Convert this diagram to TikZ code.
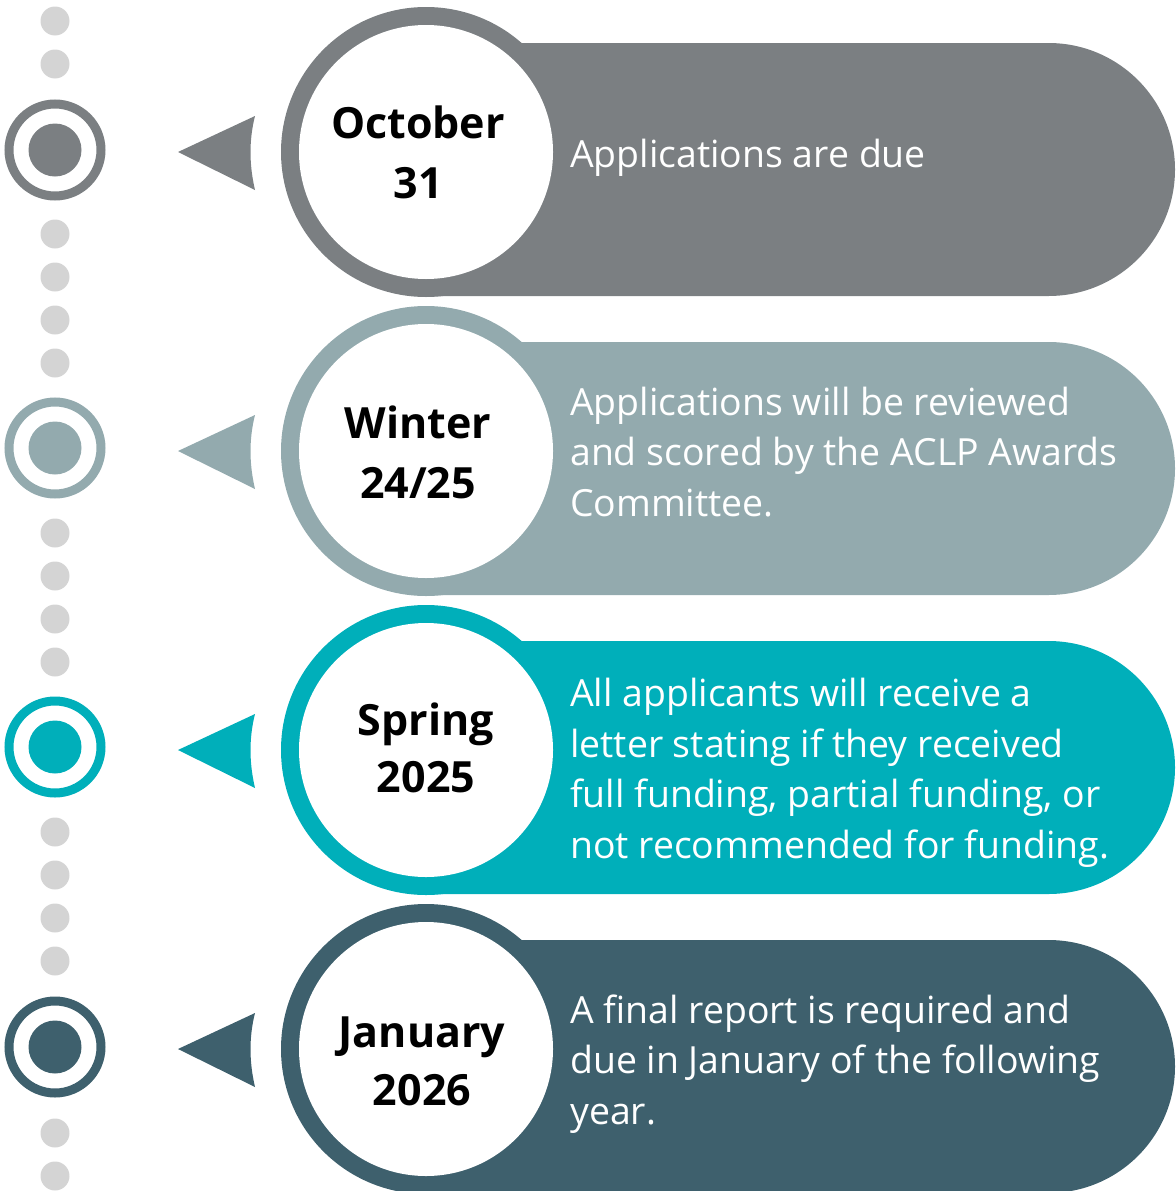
\documentclass[tikz,border=0pt]{standalone}
\usepackage{fontspec}
\setmainfont{Open Sans}
\usetikzlibrary{positioning,calc}

\definecolor{rowgray}{HTML}{7B7F82}
\definecolor{rowsage}{HTML}{93AAAE}
\definecolor{rowteal}{HTML}{00AFBA}
\definecolor{rowslate}{HTML}{3E606D}
\definecolor{dotgray}{HTML}{D4D4D4}

\tikzset{
	ring/.style={circle, fill=#1, minimum size=290pt, inner sep=0pt},
	face/.style={circle, fill=white, minimum size=254pt, inner sep=0pt},
	datetext/.style={font=\fontsize{43}{#1}\selectfont\bfseries, align=center, inner sep=0pt, anchor=base},
	datetext/.default=60,
	bodytext/.style={font=\fontsize{37.4}{50.5}\selectfont, text=white, align=left, inner sep=0pt, anchor=base west},
	greydot/.style={circle, fill=dotgray, minimum size=29pt, inner sep=0pt},
	target/.style={circle, draw=#1, line width=9pt, minimum size=92pt, inner sep=0pt},
	bullseye/.style={circle, fill=#1, minimum size=53pt, inner sep=0pt}
}

% rounded bar and pointer of one row
\newcommand{\timebar}[2]{\fill[#1] (426,#2+109) -- (1048.5,#2+109) arc[start angle=90, end angle=-90, radius=126.5] -- (426,#2-144) -- cycle;}
\newcommand{\pointer}[2]{\fill[#1] (178,#2) -- (255,#2+36) .. controls (249,#2+12) and (249,#2-12) .. (255,#2-38) -- cycle;}

\begin{document}
\begin{tikzpicture}[x=1pt, y=1pt]
	\useasboundingbox (0,0) rectangle (1175,-1191);

	% dotted line
	\foreach \dy in {21,64,234,277,320,363,533,576,619,662,832,875,918,961,1133,1176}
		\node[greydot] at (55,-\dy) {};

	% bars
	\timebar{rowgray}{-152}
	\timebar{rowsage}{-451}
	\timebar{rowteal}{-750}
	\timebar{rowslate}{-1049}

	% pointers
	\pointer{rowgray}{-152}
	\pointer{rowsage}{-451}
	\pointer{rowteal}{-750}
	\pointer{rowslate}{-1049}

	% targets
	\node[target=rowgray] (t1) at (55,-150) {};
	\node[bullseye=rowgray] at (t1) {};
	\node[target=rowsage] (t2) at (55,-448) {};
	\node[bullseye=rowsage] at (t2) {};
	\node[target=rowteal] (t3) at (55,-747) {};
	\node[bullseye=rowteal] at (t3) {};
	\node[target=rowslate] (t4) at (55,-1047) {};
	\node[bullseye=rowslate] at (t4) {};

	% date circles
	\node[ring=rowgray] (r1) at (426,-152) {};
	\node[face] (oct) at (r1) {};
	\node[ring=rowsage] (r2) at (426,-451) {};
	\node[face] (win) at (r2) {};
	\node[ring=rowteal] (r3) at (426,-750) {};
	\node[face] (spr) at (r3) {};
	\node[ring=rowslate] (r4) at (426,-1049) {};
	\node[face] (jan) at (r4) {};

	% base = last line
	\node[datetext] (octlbl) at (418,-198) {October\\31};
	\node[datetext] (winlbl) at (418,-498) {Winter\\24/25};
	\node[datetext=57] (sprlbl) at (426,-792) {Spring\\2025};
	\node[datetext=58] (janlbl) at (422,-1105) {January\\2026};

	% descriptions
	\node[bodytext] (due) at (570,-167) {Applications are due};
	\node[bodytext] (review) at (570,-516) {Applications will be reviewed\\and scored by the ACLP Awards\\Committee.};
	\node[bodytext] (letter) at (570,-858) {All applicants will receive a\\letter stating if they received\\full funding, partial funding, or\\not recommended for funding.};
	\node[bodytext] (report) at (570,-1124) {A final report is required and\\due in January of the following\\year.};
\end{tikzpicture}
\end{document}
